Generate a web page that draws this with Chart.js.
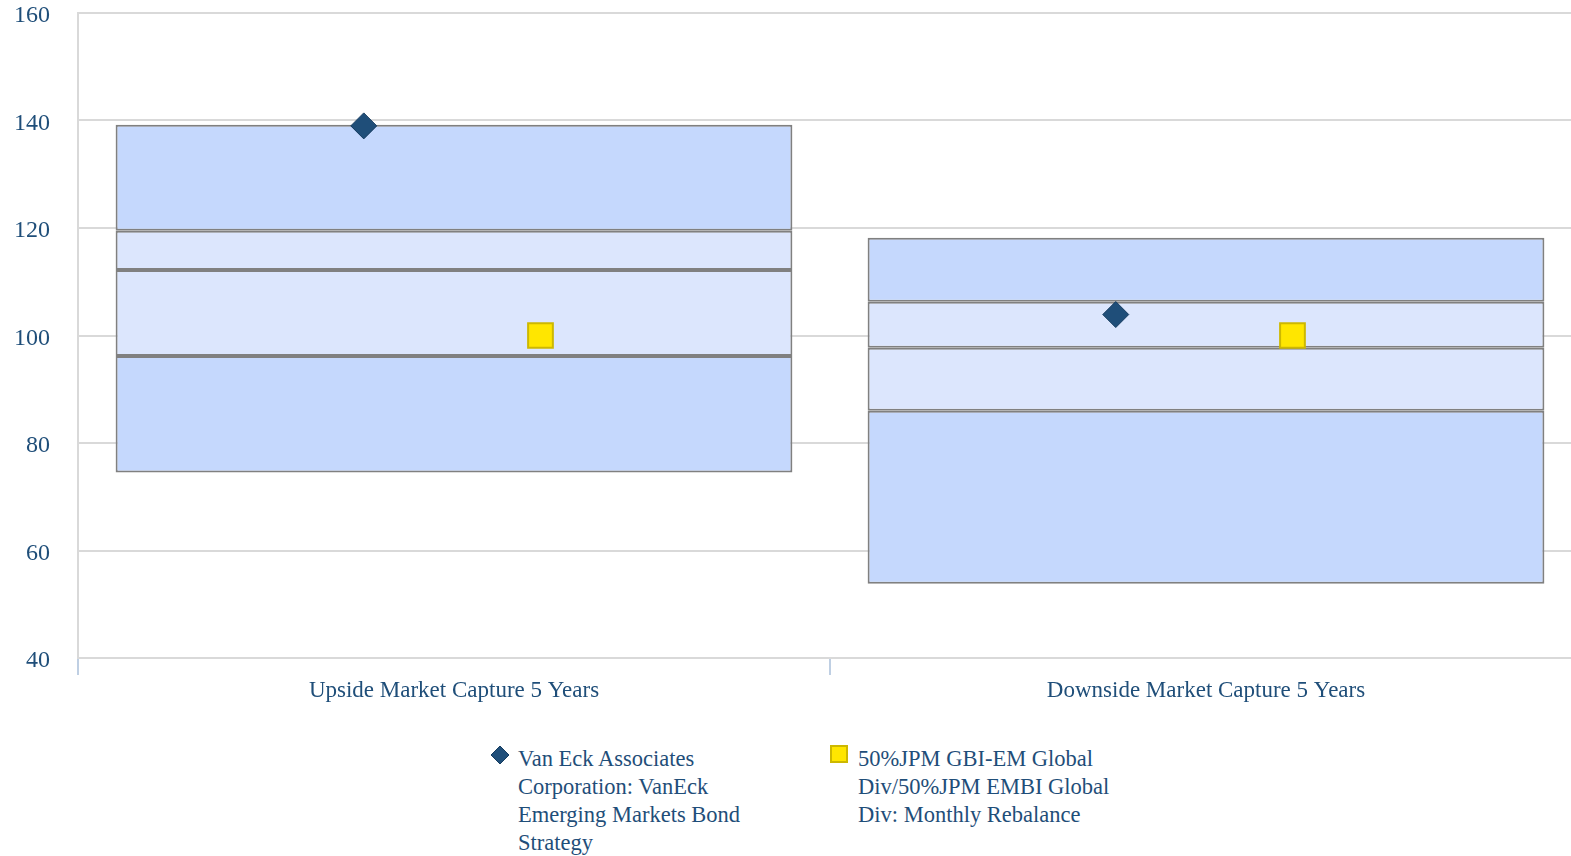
<!DOCTYPE html>
<html>
<head>
    <title>Market Capture 5 Years</title>
    <script src="https://cdn.jsdelivr.net/npm/chart.js"></script>
    <style>
        body { margin: 0; background: #fff; overflow: hidden; font-family: "Liberation Serif", "Times New Roman", serif; }
        .chart-container { position: absolute; left: 0; top: 0; }
        .legend { position: absolute; top: 745px; font-size: 22.5px; line-height: 28px; color: #1F4E79; }
        .legend .icon { position: absolute; }
        .legend .text { position: absolute; white-space: nowrap; }
    </style>
    <script type="text/javascript">
        // categories and quartile boxes (min, 25th, median, 75th, max)
        var categories = ["Upside Market Capture 5 Years", "Downside Market Capture 5 Years"];
        var boxMin    = [74.5, 53.8];
        var boxQ1     = [96.2, 86.0];
        var boxMedian = [112.2, 97.7];
        var boxQ3     = [119.5, 106.3];
        var boxMax    = [139.2, 118.2];

        // series points
        var vanEckLabel = "Van Eck Associates Corporation: VanEck Emerging Markets Bond Strategy";
        var vanEckValues = [139.0, 103.9];
        var benchLabel = "50%JPM GBI-EM Global Div/50%JPM EMBI Global Div: Monthly Rebalance";
        var benchValues = [100.0, 100.0];

        var yTicks = [40, 60, 80, 100, 120, 140, 160];

        window.onload = function() {
            var textColor = '#1F4E79';
            var markerShift = [-0.12, 0.115]; // horizontal spread of the markers within a category

            function segment(lo, hi) {
                return lo.map(function(v, i) { return [v, hi[i]]; });
            }
            function points(values, shift) {
                return values.map(function(v, i) { return { x: i + shift, y: v }; });
            }
            function boxDataset(data, color) {
                return {
                    type: 'bar',
                    data: data,
                    backgroundColor: color,
                    borderColor: '#808080',
                    borderWidth: 2,
                    borderSkipped: false,
                    grouped: false,
                    categoryPercentage: 0.9,
                    barPercentage: 1.0,
                    xAxisID: 'x',
                    order: 2
                };
            }

            var ctx = document.getElementById('captureChart').getContext('2d');
            new Chart(ctx, {
                data: {
                    labels: categories,
                    datasets: [
                        boxDataset(segment(boxMin, boxQ1), '#C5D8FD'),
                        boxDataset(segment(boxQ1, boxMedian), '#DCE6FD'),
                        boxDataset(segment(boxMedian, boxQ3), '#DCE6FD'),
                        boxDataset(segment(boxQ3, boxMax), '#C5D8FD'),
                        {
                            type: 'scatter',
                            label: vanEckLabel,
                            data: points(vanEckValues, markerShift[0]),
                            xAxisID: 'x2',
                            pointStyle: 'rectRot',
                            pointRadius: 13,
                            backgroundColor: '#1F4E79',
                            borderColor: '#163C60',
                            borderWidth: 1,
                            order: 1
                        },
                        {
                            type: 'scatter',
                            label: benchLabel,
                            data: points(benchValues, markerShift[1]),
                            xAxisID: 'x2',
                            pointStyle: 'rect',
                            pointRadius: 17.5,
                            backgroundColor: '#FFE600',
                            borderColor: '#CDB800',
                            borderWidth: 2,
                            order: 1
                        }
                    ]
                },
                options: {
                    responsive: false,
                    animation: false,
                    layout: { autoPadding: false, padding: { top: 13, right: 0, left: 0, bottom: 0 } },
                    plugins: {
                        legend: { display: false },
                        tooltip: { enabled: false }
                    },
                    scales: {
                        x: {
                            type: 'category',
                            offset: true,
                            afterFit: function(scale) {
                                scale.height = 47;
                                scale.paddingLeft = 0;
                                scale.paddingRight = 0;
                            },
                            grid: {
                                offset: true,
                                drawOnChartArea: false,
                                drawTicks: true,
                                tickLength: 17,
                                color: '#BFCFE3',
                                lineWidth: 2
                            },
                            border: { color: '#D9D9D9', width: 2 },
                            ticks: {
                                color: textColor,
                                font: { family: 'Liberation Serif', size: 23 },
                                padding: 2,
                                maxRotation: 0
                            }
                        },
                        x2: {
                            type: 'linear',
                            min: -0.5,
                            max: 1.5,
                            display: false
                        },
                        y: {
                            min: 40,
                            max: 160,
                            afterFit: function(scale) {
                                scale.width = 78;
                                scale.paddingTop = 0;
                                scale.paddingBottom = 0;
                            },
                            afterBuildTicks: function(scale) {
                                scale.ticks = yTicks.map(function(v) { return { value: v }; });
                            },
                            grid: { color: '#D9D9D9', lineWidth: 2, drawTicks: false },
                            border: { color: '#D9D9D9', width: 2 },
                            ticks: {
                                color: textColor,
                                font: { family: 'Liberation Serif', size: 24 },
                                padding: 28,
                                labelOffset: 3
                            }
                        }
                    }
                }
            });
        };
    </script>
</head>
<body>
    <div class="chart-container">
        <canvas id="captureChart" width="1582" height="705"></canvas>
    </div>
    <div class="legend">
        <svg class="icon" style="left:490px; top:0px;" width="20" height="20" viewBox="0 0 20 20">
            <polygon points="10,1 19,10 10,19 1,10" fill="#1F4E79" stroke="#163C60" stroke-width="1"/>
        </svg>
        <div class="text" style="left:518px; top:0;">Van Eck Associates<br>Corporation: VanEck<br>Emerging Markets Bond<br>Strategy</div>
        <svg class="icon" style="left:830px; top:0px;" width="18" height="18" viewBox="0 0 18 18">
            <rect x="1" y="1" width="16" height="16" fill="#FFE600" stroke="#CDB800" stroke-width="2"/>
        </svg>
        <div class="text" style="left:858px; top:0;">50%JPM GBI-EM Global<br>Div/50%JPM EMBI Global<br>Div: Monthly Rebalance</div>
    </div>
</body>
</html>
